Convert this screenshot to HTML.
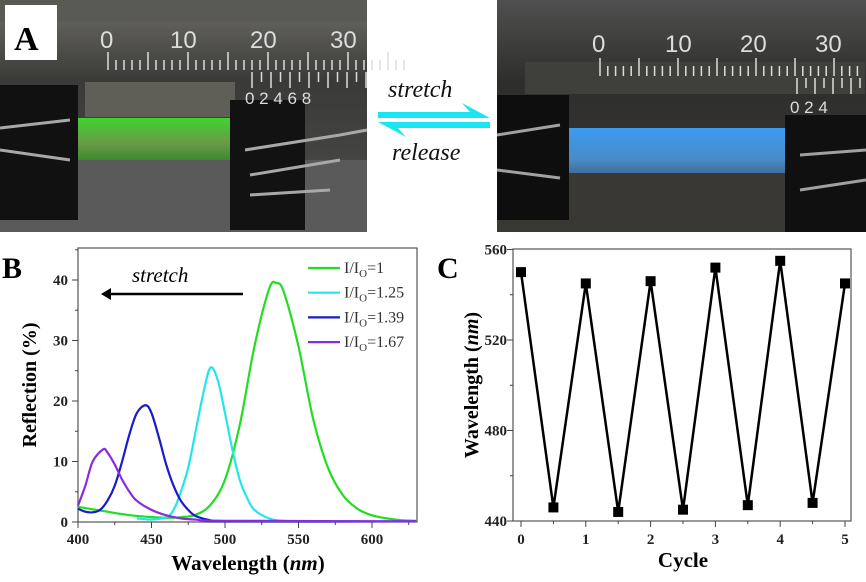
<!DOCTYPE html>
<html><head><meta charset="utf-8"><style>
html,body{margin:0;padding:0;background:#fff;}
svg{display:block;font-family:"Liberation Serif",serif;}
.tk{font-weight:bold;font-size:15px;fill:#222;}
</style></head><body>
<svg id="fig" width="866" height="582" viewBox="0 0 866 582">
<defs>
<linearGradient id="gl" x1="0" y1="0" x2="0" y2="1"><stop offset="0" stop-color="#6d6c66"/><stop offset="0.35" stop-color="#3a3a38"/><stop offset="1" stop-color="#4d4d4d"/></linearGradient>
<linearGradient id="gr" x1="0" y1="0" x2="0" y2="1"><stop offset="0" stop-color="#505050"/><stop offset="0.35" stop-color="#2e2e2c"/><stop offset="1" stop-color="#3a3836"/></linearGradient>
<linearGradient id="gs" x1="0" y1="0" x2="0" y2="1"><stop offset="0" stop-color="#3fd42e"/><stop offset="0.6" stop-color="#6a9a48"/><stop offset="1" stop-color="#3c8a2e"/></linearGradient>
<linearGradient id="bs" x1="0" y1="0" x2="0" y2="1"><stop offset="0" stop-color="#3a9cf0"/><stop offset="0.7" stop-color="#4a8ac8"/><stop offset="1" stop-color="#3f6e9a"/></linearGradient>
</defs>
<g>
<rect x="0" y="0" width="367" height="232" fill="url(#gl)"/>
<rect x="0" y="0" width="367" height="22" fill="#5a5a55"/>
<rect x="85" y="82" width="150" height="35" fill="#5f5f58"/>
<rect x="0" y="160" width="367" height="72" fill="#5a5a5a"/>
<rect x="45" y="118" width="185" height="42" fill="url(#gs)"/>
<rect x="0" y="85" width="78" height="135" fill="#111"/>
<rect x="230" y="100" width="75" height="130" fill="#121212"/>
<path d="M0 128 L70 120 M0 150 L70 160 M245 150 L340 135 L367 130 M250 175 L340 160 M250 195 L330 190" stroke="#a8a8a8" stroke-width="3" fill="none"/>
<g id="rulerL" stroke="#ddd" stroke-width="1.5"></g>
<g fill="#ddd" font-family="Liberation Sans,sans-serif" font-size="24">
<text x="100" y="48">0</text><text x="170" y="48">10</text><text x="250" y="48">20</text><text x="330" y="48">30</text>
</g>
<g fill="#ddd" font-family="Liberation Sans,sans-serif" font-size="17">
<text x="245" y="104">0 2 4 6 8</text></g>
<rect x="5" y="5" width="52" height="55" fill="#fff"/>
<text x="14" y="50" font-size="34" font-weight="bold" fill="#000">A</text>
</g>
<g>
<rect x="497" y="0" width="369" height="232" fill="url(#gr)"/>
<rect x="525" y="62" width="340" height="32" fill="#3f3f3c"/>
<rect x="497" y="170" width="369" height="62" fill="#3a3835"/>
<rect x="568" y="128" width="218" height="45" fill="url(#bs)"/>
<rect x="497" y="95" width="72" height="125" fill="#0e0e0e"/>
<rect x="785" y="115" width="81" height="117" fill="#101010"/>
<path d="M497 135 L560 125 M497 170 L560 178 M800 155 L866 150 M800 190 L866 180" stroke="#a0a0a0" stroke-width="3" fill="none"/>
<g id="rulerR" stroke="#ddd" stroke-width="1.5"></g>
<g fill="#ddd" font-family="Liberation Sans,sans-serif" font-size="24">
<text x="592" y="52">0</text><text x="665" y="52">10</text><text x="740" y="52">20</text><text x="815" y="52">30</text>
</g>
<text x="790" y="113" fill="#ddd" font-family="Liberation Sans,sans-serif" font-size="17">0 2 4</text>
</g>
<g>
<text x="388" y="97" font-size="24" font-style="italic" fill="#111">stretch</text>
<text x="392" y="160" font-size="24" font-style="italic" fill="#111">release</text>
<path d="M378 112 L470 112 L462 103 L490 118 L378 118 Z" fill="#19e6f0"/>
<path d="M490 128 L398 128 L406 137 L378 122 L490 122 Z" fill="#19e6f0"/>
</g>
<g id="B">
<text x="2" y="278" font-size="30" font-weight="bold">B</text>
<rect x="78" y="248" width="339" height="274" fill="none" stroke="#555" stroke-width="1.2"/>
<g id="Bax"></g><g id="Bcurves"></g>
<text transform="translate(36,385) rotate(-90)" text-anchor="middle" font-size="20" font-weight="bold">Reflection (%)</text>
<text x="248" y="570" text-anchor="middle" font-size="21" font-weight="bold">Wavelength (<tspan font-style="italic">nm</tspan>)</text>
<text x="132" y="282" font-size="21" font-style="italic">stretch</text>
<path d="M243 294 L108 294" stroke="#000" stroke-width="2.5"/>
<path d="M101 294 L111 288 L111 300 Z" fill="#000"/>
<g id="Blegend"></g>
</g>
<g id="C">
<text x="437" y="278" font-size="30" font-weight="bold">C</text>
<rect x="513" y="249" width="338" height="272" fill="none" stroke="#555" stroke-width="1.2"/>
<g id="Cax"></g><g id="Cmarks"></g>
<text transform="translate(478,385) rotate(-90)" text-anchor="middle" font-size="20" font-weight="bold">Wavelength (<tspan font-style="italic">nm</tspan>)</text>
<text x="683" y="567" text-anchor="middle" font-size="21" font-weight="bold">Cycle</text>
</g>
</svg>
<script>
// ---- Panel B data ----
const seriesNames=["I/I0=1","I/I0=1.25","I/I0=1.39","I/I0=1.67"];
const seriesColors=["#22dd22","#22e6ee","#1a1ac8","#8a2be2"];
const greenX=[400,410,420,430,440,450,460,470,480,490,500,510,520,530,535,540,550,560,570,580,590,600,610,620,630];
const greenY=[2.5,2.1,1.7,1.3,1.0,0.8,0.7,0.8,1.2,2.8,7,16,29,38.5,39.5,38,29,17,9,4.5,2.2,1.1,0.6,0.3,0.2];
const cyanX=[440,450,460,465,470,475,480,485,490,495,500,505,510,515,520,530,540,560,630];
const cyanY=[0.6,0.4,0.8,2,5,9,15,21,25.5,23.5,18,12,7,4,2,0.6,0.2,0.1,0.1];
const blueX=[400,405,410,415,420,425,430,435,440,446,450,455,460,465,470,475,480,490,500,630];
const blueY=[2.2,1.7,1.6,2,3.5,6,10,14.5,18,19.3,18,14,9.5,6,3.5,2,1,0.3,0.1,0.1];
const purpleX=[400,405,410,417,420,425,430,435,440,450,460,470,480,500,630];
const purpleY=[2.7,6,10,12,11.5,9.5,7,5,3.5,2,1.1,0.6,0.4,0.2,0.1];
const bXTicks=[400,450,500,550,600];
const bYTicks=[0,10,20,30,40];
// ---- Panel C data ----
const cycles=[0,0.5,1,1.5,2,2.5,3,3.5,4,4.5,5];
const wavelengths=[550,446,545,444,546,445,552,447,555,448,545];
const cXTicks=[0,1,2,3,4,5];
const cYTicks=[440,480,520,560];

const NS="http://www.w3.org/2000/svg";
function mk(tag,attrs,parent){const e=document.createElementNS(NS,tag);for(const k in attrs)e.setAttribute(k,attrs[k]);parent.appendChild(e);return e;}

const rl=document.getElementById('rulerL');
for(let i=0;i<=37;i++){const x=108+i*8;mk('line',{x1:x,y1:(i%5==0?52:60),x2:x,y2:70},rl);}
for(let i=0;i<=12;i++){const x=252+i*9.5;mk('line',{x1:x,y1:72,x2:x,y2:(i%2==0?88:82)},rl);}
const rr=document.getElementById('rulerR');
for(let i=0;i<=33;i++){const x=600+i*7.8;mk('line',{x1:x,y1:(i%5==0?58:66),x2:x,y2:76},rr);}
for(let i=0;i<=8;i++){const x=797+i*9;mk('line',{x1:x,y1:78,x2:x,y2:(i%2==0?94:88)},rr);}

const bx=v=>78+(v-400)*1.47;
const by=v=>522-v*6.05;
const bax=document.getElementById('Bax');
for(let v=400;v<=625;v+=25){mk('line',{x1:bx(v),y1:522,x2:bx(v),y2:v%50==0?528:525,stroke:'#444'},bax);}
for(let v=0;v<=45;v+=5){mk('line',{x1:78,y1:by(v),x2:v%10==0?72:75,y2:by(v),stroke:'#444'},bax);}
bXTicks.forEach(v=>{const t=mk('text',{x:bx(v),y:544,'text-anchor':'middle',class:'tk'},bax);t.textContent=v;

});
bYTicks.forEach(v=>{const t=mk('text',{x:68,y:by(v)+5,'text-anchor':'end',class:'tk'},bax);t.textContent=v;

});

function smoothPath(xs,ys,fx,fy){const p=xs.map((x,i)=>[fx(x),fy(ys[i])]);let d='M'+p[0][0]+' '+p[0][1];
for(let i=0;i<p.length-1;i++){const p0=p[i-1]||p[i],p1=p[i],p2=p[i+1],p3=p[i+2]||p2;
const c1=[p1[0]+(p2[0]-p0[0])/6,p1[1]+(p2[1]-p0[1])/6],c2=[p2[0]-(p3[0]-p1[0])/6,p2[1]-(p3[1]-p1[1])/6];
d+=` C${c1[0]} ${c1[1]} ${c2[0]} ${c2[1]} ${p2[0]} ${p2[1]}`;}return d;}
const bc=document.getElementById('Bcurves');
const allX=[greenX,cyanX,blueX,purpleX],allY=[greenY,cyanY,blueY,purpleY];
const curveNames=['curve-ratio-1','curve-ratio-1-25','curve-ratio-1-39','curve-ratio-1-67'];
allX.forEach((xs,i)=>{const p=mk('path',{d:smoothPath(xs,allY[i],bx,by),fill:'none',stroke:seriesColors[i],'stroke-width':2.2},bc);

});
const lg=document.getElementById('Blegend');
const subs=['1','1.25','1.39','1.67'];
seriesNames.forEach((n,i)=>{const y=268+i*24.7;
const g=mk('g',{},lg);


mk('line',{x1:308,y1:y,x2:340,y2:y,stroke:seriesColors[i],'stroke-width':2.2},g);
const t=mk('text',{x:344,y:y+5,'font-size':16,fill:'#333'},g);
t.innerHTML='I/I<tspan font-size="11" dy="4">O</tspan><tspan dy="-4">='+subs[i]+'</tspan>';});

const cx=v=>521+v*64.8;
const cy=v=>521-(v-440)*2.2625;
const cax=document.getElementById('Cax');
for(let v=0;v<=5;v+=0.5){mk('line',{x1:cx(v),y1:521,x2:cx(v),y2:v%1==0?527:524,stroke:'#444'},cax);}
for(let v=440;v<=560;v+=20){mk('line',{x1:513,y1:cy(v),x2:v%40==0?507:510,y2:cy(v),stroke:'#444'},cax);}
cXTicks.forEach(v=>{const t=mk('text',{x:cx(v),y:544,'text-anchor':'middle',class:'tk'},cax);t.textContent=v;

});
cYTicks.forEach(v=>{const t=mk('text',{x:507,y:cy(v)+5,'text-anchor':'end',class:'tk'},cax);t.textContent=v;

});
const cm=document.getElementById('Cmarks');
const line=mk('polyline',{points:cycles.map((c,i)=>cx(c)+','+cy(wavelengths[i])).join(' '),fill:'none',stroke:'#000','stroke-width':2.5,'stroke-linejoin':'miter'},cm);


cycles.forEach((c,i)=>{const r=mk('rect',{x:cx(c)-5,y:cy(wavelengths[i])-5,width:10,height:10,fill:'#000'},cm);

});
</script>
</body></html>
